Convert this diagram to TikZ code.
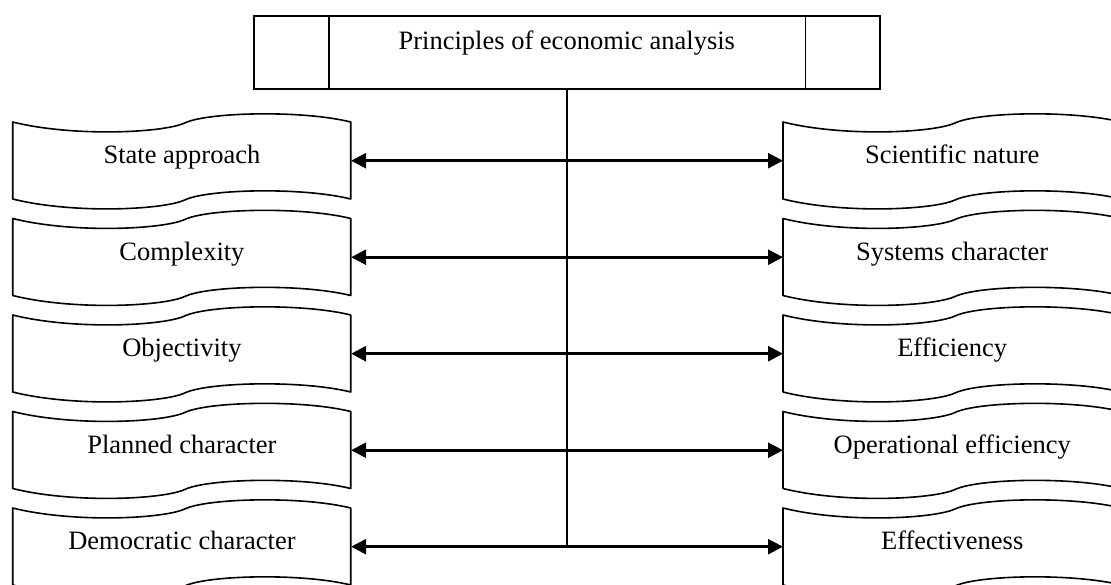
\documentclass[tikz,border=0pt]{standalone}
\usepackage{fontspec}
\setmainfont{Liberation Serif}
\usetikzlibrary{arrows.meta}

\tikzset{
  tapetext/.style={minimum width=338pt, minimum height=77pt, inner sep=0pt,
    anchor=north west, text height=15pt, text depth=9pt},
  tapeline/.style={line width=1.6pt, line join=round},
  linkarrow/.style={line width=2.6pt,
    {Triangle[length=15pt,width=15pt]}-{Triangle[length=15pt,width=15pt]}},
  tape/.pic={
    \draw[tapeline] (0,0) .. controls (60,15) and (150,11) .. (172,1)
      .. controls (195,-10) and (290,-12) .. (338,0) -- (338,77)
      .. controls (290,65) and (195,67) .. (172,78)
      .. controls (150,88) and (60,92) .. (0,77) -- cycle;
  }
}

\begin{document}
\begin{tikzpicture}[x=1pt, y=-1pt, font=\fontsize{26.5}{30}\selectfont]
\useasboundingbox (0,0) rectangle (1111,584);

% top box
\node[draw, line width=1.6pt, minimum width=626pt, minimum height=73pt, inner sep=0pt,
  anchor=north west, text height=15pt, text depth=20pt] (main) at (253,15)
  {Principles of economic analysis};
\draw[line width=1.6pt] ([xshift=76pt]main.north west) -- ([xshift=76pt]main.south west);
\draw[line width=1.6pt] ([xshift=-75pt]main.north east) -- ([xshift=-75pt]main.south east);

% left column
\node[tapetext] (l1) at (12.7,122)   {State approach};
\node[tapetext] (l2) at (12.7,218.5) {Complexity};
\node[tapetext] (l3) at (12.7,315)   {Objectivity};
\node[tapetext] (l4) at (12.7,411.5) {Planned character};
\node[tapetext] (l5) at (12.7,508)   {Democratic character};

% right column
\node[tapetext] (r1) at (783,122)   {Scientific nature};
\node[tapetext] (r2) at (783,218.5) {Systems character};
\node[tapetext] (r3) at (783,315)   {Efficiency};
\node[tapetext] (r4) at (783,411.5) {Operational efficiency};
\node[tapetext] (r5) at (783,508)   {Effectiveness};

\pic at (l1.north west) {tape};
\pic at (l2.north west) {tape};
\pic at (l3.north west) {tape};
\pic at (l4.north west) {tape};
\pic at (l5.north west) {tape};
\pic at (r1.north west) {tape};
\pic at (r2.north west) {tape};
\pic at (r3.north west) {tape};
\pic at (r4.north west) {tape};
\pic at (r5.north west) {tape};

% trunk and links
\coordinate (foot) at (main.south |- l5.east);
\draw[line width=1.6pt] (main.south) -- (foot);
\draw[linkarrow] (l1.east) -- (r1.west);
\draw[linkarrow] (l2.east) -- (r2.west);
\draw[linkarrow] (l3.east) -- (r3.west);
\draw[linkarrow] (l4.east) -- (r4.west);
\draw[linkarrow] (l5.east) -- (r5.west);
\end{tikzpicture}
\end{document}
